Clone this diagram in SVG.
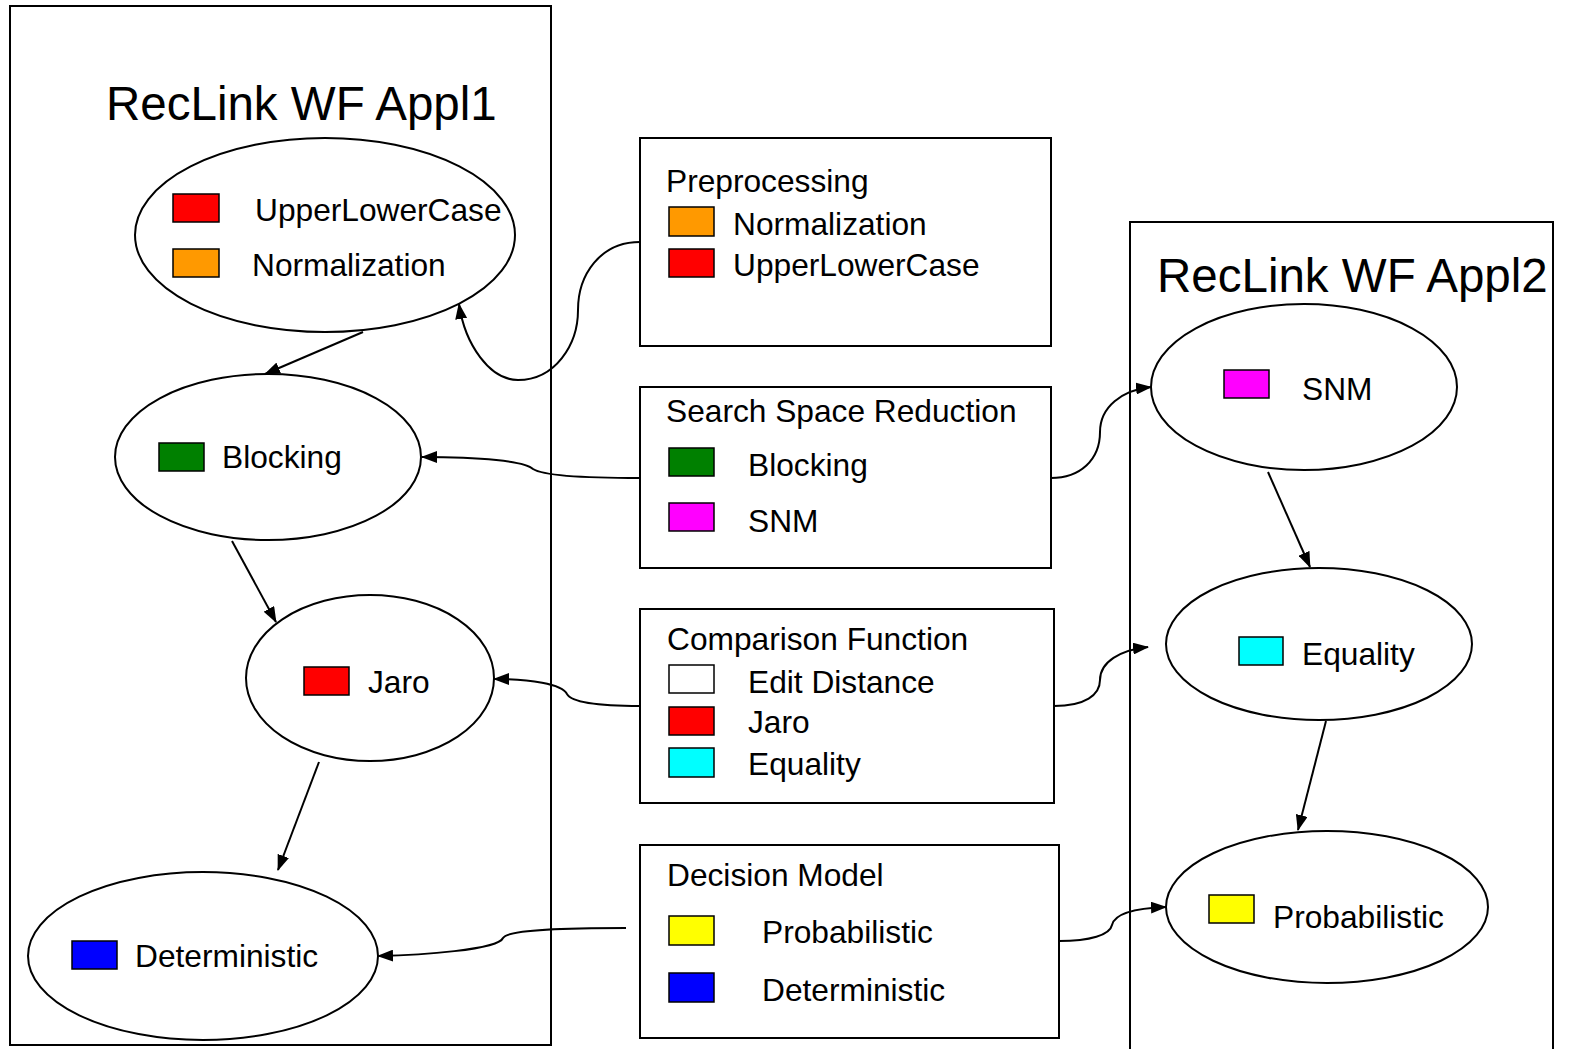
<svg xmlns="http://www.w3.org/2000/svg" width="1570" height="1049" viewBox="0 0 1570 1049">
<style>
.frame{fill:none;stroke:#000;stroke-width:2}
.box{fill:#fff;stroke:#000;stroke-width:2}
.ell{fill:#fff;stroke:#000;stroke-width:2}
.sw{stroke:#000;stroke-width:1.5}
.t{font-family:"Liberation Sans",Arial,sans-serif;font-size:31.7px;fill:#000}
.title{font-family:"Liberation Sans",Arial,sans-serif;font-size:47.5px;fill:#000}
.c{fill:none;stroke:#000;stroke-width:2}
</style>
<defs>
<marker id="ah" viewBox="0 0 16 12" refX="15" refY="6" markerWidth="16" markerHeight="12" markerUnits="userSpaceOnUse" orient="auto">
<path d="M0,0 L16,6 L0,12 z" fill="#000"/>
</marker>
</defs>
<rect width="1570" height="1049" fill="#fff"/>

<g id="appl1">
<rect class="frame" x="10" y="6" width="541" height="1039"/>
<text class="title" x="106" y="120">RecLink WF Appl1</text>
</g>
<g id="appl2">
<rect class="frame" x="1130" y="222" width="423" height="840"/>
<text class="title" x="1157" y="292">RecLink WF Appl2</text>
</g>

<g id="n-preproc1">
<ellipse class="ell" cx="325" cy="235" rx="190" ry="97"/>
<rect class="sw" x="173" y="194" width="46" height="28" fill="#ff0000"/>
<rect class="sw" x="173" y="249" width="46" height="28" fill="#ff9900"/>
<text class="t" x="255" y="221">UpperLowerCase</text>
<text class="t" x="252" y="276">Normalization</text>
</g>
<g id="n-blocking">
<ellipse class="ell" cx="268" cy="457" rx="153" ry="83"/>
<rect class="sw" x="159" y="443" width="45" height="28" fill="#008000"/>
<text class="t" x="222" y="468">Blocking</text>
</g>
<g id="n-jaro">
<ellipse class="ell" cx="370" cy="678" rx="124" ry="83"/>
<rect class="sw" x="304" y="667" width="45" height="28" fill="#ff0000"/>
<text class="t" x="368" y="693">Jaro</text>
</g>
<g id="n-deterministic">
<ellipse class="ell" cx="203" cy="956" rx="175" ry="84"/>
<rect class="sw" x="72" y="941" width="45" height="28" fill="#0000ff"/>
<text class="t" x="135" y="967">Deterministic</text>
</g>

<g id="n-snm">
<ellipse class="ell" cx="1304" cy="387" rx="153" ry="83"/>
<rect class="sw" x="1224" y="370" width="45" height="28" fill="#ff00ff"/>
<text class="t" x="1302" y="400">SNM</text>
</g>
<g id="n-equality">
<ellipse class="ell" cx="1319" cy="644" rx="153" ry="76"/>
<rect class="sw" x="1239" y="637" width="44" height="28" fill="#00ffff"/>
<text class="t" x="1302" y="665">Equality</text>
</g>
<g id="n-probabilistic">
<ellipse class="ell" cx="1327" cy="907" rx="161" ry="76"/>
<rect class="sw" x="1209" y="895" width="45" height="28" fill="#ffff00"/>
<text class="t" x="1273" y="928">Probabilistic</text>
</g>

<g id="b-preprocessing">
<rect class="box" x="640" y="138" width="411" height="208"/>
<text class="t" x="666" y="192">Preprocessing</text>
<rect class="sw" x="669" y="207" width="45" height="29" fill="#ff9900"/>
<text class="t" x="733" y="235">Normalization</text>
<rect class="sw" x="669" y="249" width="45" height="28" fill="#ff0000"/>
<text class="t" x="733" y="276">UpperLowerCase</text>
</g>
<g id="b-ssr">
<rect class="box" x="640" y="387" width="411" height="181"/>
<text class="t" x="666" y="422">Search Space Reduction</text>
<rect class="sw" x="669" y="448" width="45" height="28" fill="#008000"/>
<text class="t" x="748" y="476">Blocking</text>
<rect class="sw" x="669" y="503" width="45" height="28" fill="#ff00ff"/>
<text class="t" x="748" y="532">SNM</text>
</g>
<g id="b-comparison">
<rect class="box" x="640" y="609" width="414" height="194"/>
<text class="t" x="667" y="650">Comparison Function</text>
<rect class="sw" x="669" y="665" width="45" height="28" fill="#ffffff"/>
<text class="t" x="748" y="693">Edit Distance</text>
<rect class="sw" x="669" y="707" width="45" height="28" fill="#ff0000"/>
<text class="t" x="748" y="733">Jaro</text>
<rect class="sw" x="669" y="748" width="45" height="29" fill="#00ffff"/>
<text class="t" x="748" y="775">Equality</text>
</g>
<g id="b-decision">
<rect class="box" x="640" y="845" width="419" height="193"/>
<text class="t" x="667" y="886">Decision Model</text>
<rect class="sw" x="669" y="916" width="45" height="29" fill="#ffff00"/>
<text class="t" x="762" y="943">Probabilistic</text>
<rect class="sw" x="669" y="973" width="45" height="29" fill="#0000ff"/>
<text class="t" x="762" y="1001">Deterministic</text>
</g>

<g id="connectors">
<path class="c" marker-end="url(#ah)" d="M363,332 L265,374"/>
<path class="c" marker-end="url(#ah)" d="M640,242 C600,242 578,275 578,310 C578,345 555,380 518,380 C490,380 465,345 459,304"/>
<path class="c" marker-end="url(#ah)" d="M640,478 C600,478 545,477 533,469 C525,461 480,457 422,457"/>
<path class="c" marker-end="url(#ah)" d="M1051,478 C1080,478 1100,460 1100,432 C1100,407 1122,390 1151,387"/>
<path class="c" marker-end="url(#ah)" d="M232,541 L276,622"/>
<path class="c" marker-end="url(#ah)" d="M640,706 C600,706 572,703 567,694 C562,684 530,679 494,679"/>
<path class="c" marker-end="url(#ah)" d="M1054,706 C1085,706 1100,695 1100,680 C1100,662 1120,650 1148,647"/>
<path class="c" marker-end="url(#ah)" d="M319,762 L278,870"/>
<path class="c" marker-end="url(#ah)" d="M626,928 C570,928 508,929 503,938 C498,950 420,955 378,956"/>
<path class="c" marker-end="url(#ah)" d="M1059,941 C1090,941 1110,935 1112,925 C1115,912 1140,908 1166,907"/>
<path class="c" marker-end="url(#ah)" d="M1268,472 L1310,567"/>
<path class="c" marker-end="url(#ah)" d="M1326,721 L1298,830"/>
</g>
</svg>
